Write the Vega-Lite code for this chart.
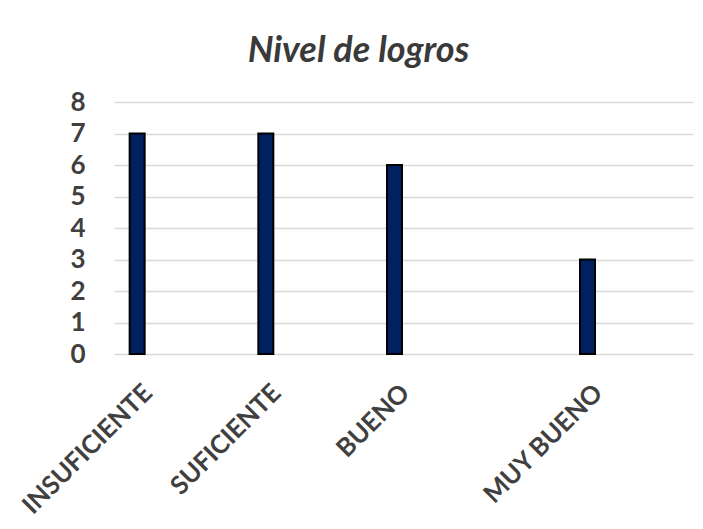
{
  "$schema": "https://vega.github.io/schema/vega-lite/v6.json",
  "autosize": "none",
  "width": 579,
  "height": 252,
  "padding": {"left": 114, "top": 102, "right": 10, "bottom": 175},
  "background": "white",
  "title": {
    "text": "Nivel de logros",
    "font": "Lato",
    "fontSize": 36,
    "fontWeight": "bold",
    "fontStyle": "italic",
    "color": "#3a3a3a",
    "anchor": "middle",
    "dx": -45,
    "baseline": "alphabetic",
    "offset": -9
  },
  "data": {
    "values": [
      {"nivel": "INSUFICIENTE", "valor": 7},
      {"nivel": "SUFICIENTE", "valor": 7},
      {"nivel": "BUENO", "valor": 6},
      {"nivel": "MUY BUENO", "valor": 3}
    ]
  },
  "mark": {"type": "bar", "size": 15, "fill": "#002060", "stroke": "black", "strokeWidth": 2},
  "encoding": {
    "x": {
      "field": "nivel",
      "type": "nominal",
      "sort": null,
      "scale": {
        "type": "point",
        "domain": ["INSUFICIENTE", " ", "SUFICIENTE", "  ", "BUENO", "   ", "    ", "MUY BUENO"],
        "padding": 1.023,
        "align": 0.18
      },
      "axis": {
        "title": null,
        "domain": false,
        "ticks": false,
        "grid": false,
        "labelAngle": -45,
        "labelFont": "Lato",
        "labelFontSize": 25.5,
        "labelFontWeight": "bold",
        "labelColor": "#404040",
        "labelPadding": 26,
        "labelOffset": 2,
        "labelLimit": 400,
        "labelOverlap": false
      }
    },
    "y": {
      "field": "valor",
      "type": "quantitative",
      "scale": {"domain": [0, 8], "nice": false},
      "axis": {
        "title": null,
        "values": [0, 1, 2, 3, 4, 5, 6, 7, 8],
        "domain": false,
        "ticks": false,
        "grid": true,
        "gridColor": "#d9d9d9",
        "gridWidth": 1.5,
        "labelFont": "Lato",
        "labelFontSize": 26,
        "labelFontWeight": "bold",
        "labelColor": "#404040",
        "labelPadding": 29
      }
    }
  },
  "config": {"view": {"stroke": null}}
}
